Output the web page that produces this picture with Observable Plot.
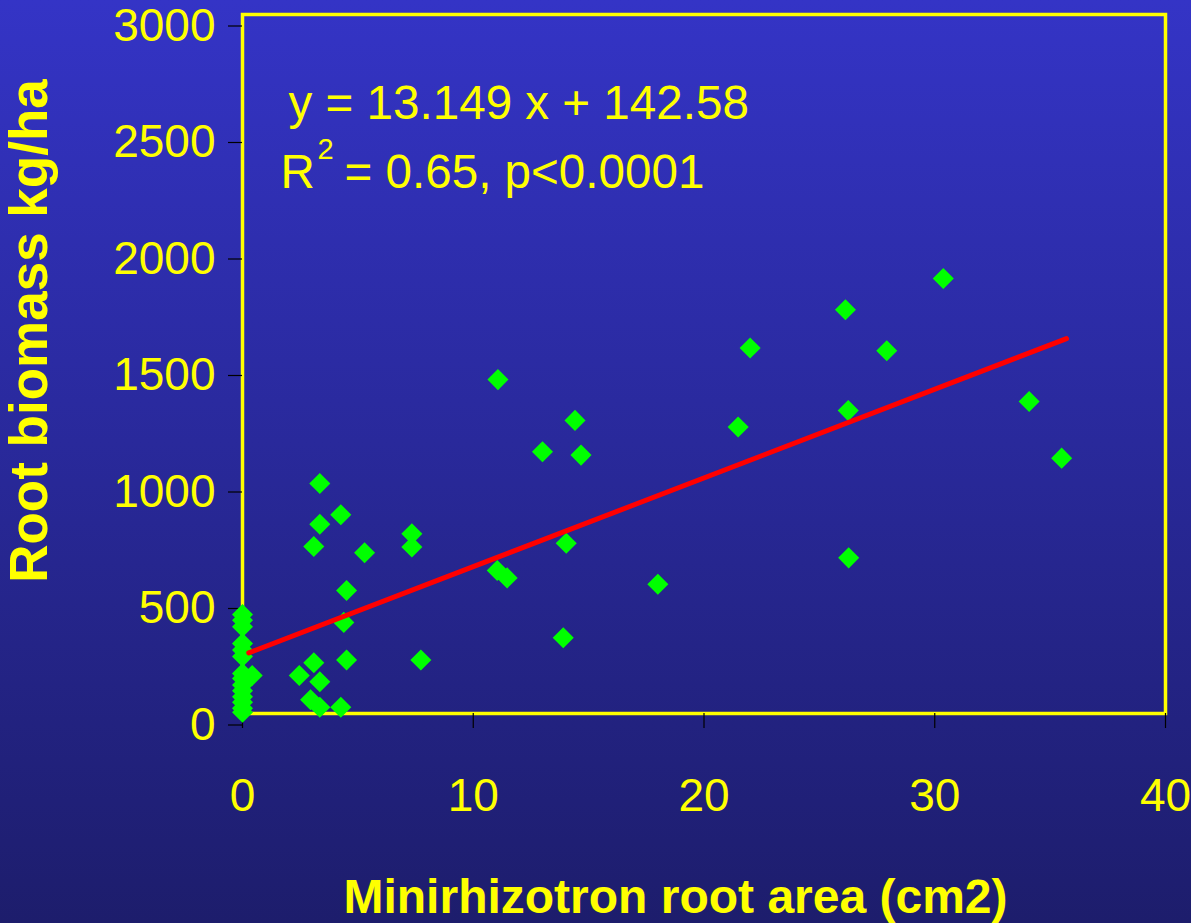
<!DOCTYPE html>
<html>
<head>
<meta charset="utf-8">
<script src="https://cdn.jsdelivr.net/npm/d3@7"></script>
<script src="https://cdn.jsdelivr.net/npm/@observablehq/plot@0.6"></script>
<style>
  html, body { margin: 0; padding: 0; }
  #chart {
    width: 1191px;
    height: 923px;
    background: linear-gradient(to bottom, #3434c6, #1d1d6c);
  }
  #chart svg { display: block; background: transparent; }
</style>
</head>
<body>
<div id="chart"></div>
<script>
// Minirhizotron root area (cm2) per tube and matching root biomass (kg/ha)
const areaValues = [
  0, 0, 0, 0, 0, 0, 0, 0, 0, 0, 0, 0, 0, 0, 0.42,
  3.35, 4.26, 3.35, 3.09, 5.29, 7.34, 7.34, 4.51, 4.39, 3.09, 2.46, 4.51, 7.73, 3.35, 2.95, 3.35, 4.26,
  11.07, 14.41, 13.0, 14.67, 14.03, 11.04, 11.47, 18.0, 13.9,
  30.37, 26.13, 22.0, 27.92, 34.09, 26.25, 21.48, 35.5, 26.27
];
const biomassValues = [
  425, 400, 372, 300, 272, 245, 172, 150, 122, 98, 72, 48, 22, 5, 163,
  987, 853, 812, 717, 690, 771, 715, 528, 391, 218, 163, 230, 230, 136, 59, 27, 27,
  1433, 1258, 1123, 1109, 731, 614, 582, 555, 325,
  1867, 1733, 1569, 1557, 1339, 1300, 1230, 1096, 668
];

// Fitted trend line end points
const trendArea = [0.27, 35.71];
const trendBiomass = [260, 1609];

const xTicks = [0, 10, 20, 30, 40];
const yTicks = [0, 500, 1000, 1500, 2000, 2500, 3000];

const xTitle = "Minirhizotron root area (cm2)";
const yTitle = "Root biomass kg/ha";
const equationText = "y = 13.149 x + 142.58";
const fitLabel = "R";
const fitExponent = "2";
const fitStats = "= 0.65, p<0.0001";

const points = areaValues.map((area, i) => ({area, biomass: biomassValues[i]}));
const trend = trendArea.map((area, i) => ({area, biomass: trendBiomass[i]}));

const font = "'Liberation Sans', Arial, Helvetica, sans-serif";
const yellow = "#ffff00";

const chart = Plot.plot({
  width: 1191,
  height: 923,
  marginLeft: 242,
  marginRight: 26,
  marginTop: 14,
  marginBottom: 210,
  style: {fontFamily: font, color: yellow, background: "transparent", overflow: "visible"},
  x: {domain: [0, 40]},
  y: {domain: [0, 3000]},
  marks: [
    Plot.frame({stroke: yellow, strokeWidth: 3.5}),
    Plot.axisY(yTicks, {
      label: null, tickSize: 14, tickPadding: 13, stroke: "black", strokeWidth: 1.2,
      fill: yellow, fontSize: 46, dy: 11.5, tickFormat: d => String(d)
    }),
    Plot.axisX(xTicks, {
      label: null, tickSize: 15, tickPadding: 50, stroke: "black", strokeWidth: 1.2,
      fill: yellow, fontSize: 46, tickFormat: d => String(d)
    }),
    Plot.dot(points, {
      x: "area", y: "biomass", symbol: "square", rotate: 45, r: 8.4,
      fill: "#00ff00", stroke: "none"
    }),
    Plot.line(trend, {x: "area", y: "biomass", stroke: "#ff0000", strokeWidth: 5}),
    // equation block
    Plot.text([equationText], {
      text: d => d, frameAnchor: "top-left", textAnchor: "start", lineAnchor: "middle",
      dx: 46, dy: 89, fontSize: 47.6, fill: yellow
    }),
    Plot.text([fitLabel], {
      text: d => d, frameAnchor: "top-left", textAnchor: "start", lineAnchor: "middle",
      dx: 38, dy: 158, fontSize: 47.6, fill: yellow
    }),
    Plot.text([fitExponent], {
      text: d => d, frameAnchor: "top-left", textAnchor: "start", lineAnchor: "middle",
      dx: 75, dy: 135, fontSize: 29, fill: yellow
    }),
    Plot.text([fitStats], {
      text: d => d, frameAnchor: "top-left", textAnchor: "start", lineAnchor: "middle",
      dx: 102, dy: 158, fontSize: 47.6, fill: yellow
    }),
    // axis titles
    Plot.text([yTitle], {
      text: d => d, frameAnchor: "left", textAnchor: "middle", rotate: -90, lineAnchor: "middle",
      dx: -212, dy: -33, fontSize: 53, fontWeight: "bold", fill: yellow
    }),
    Plot.text([xTitle], {
      text: d => d, frameAnchor: "bottom", textAnchor: "middle", lineAnchor: "middle",
      dx: -28.5, dy: 184, fontSize: 48, fontWeight: "bold", fill: yellow
    })
  ]
});

document.getElementById("chart").appendChild(chart);
</script>
</body>
</html>
